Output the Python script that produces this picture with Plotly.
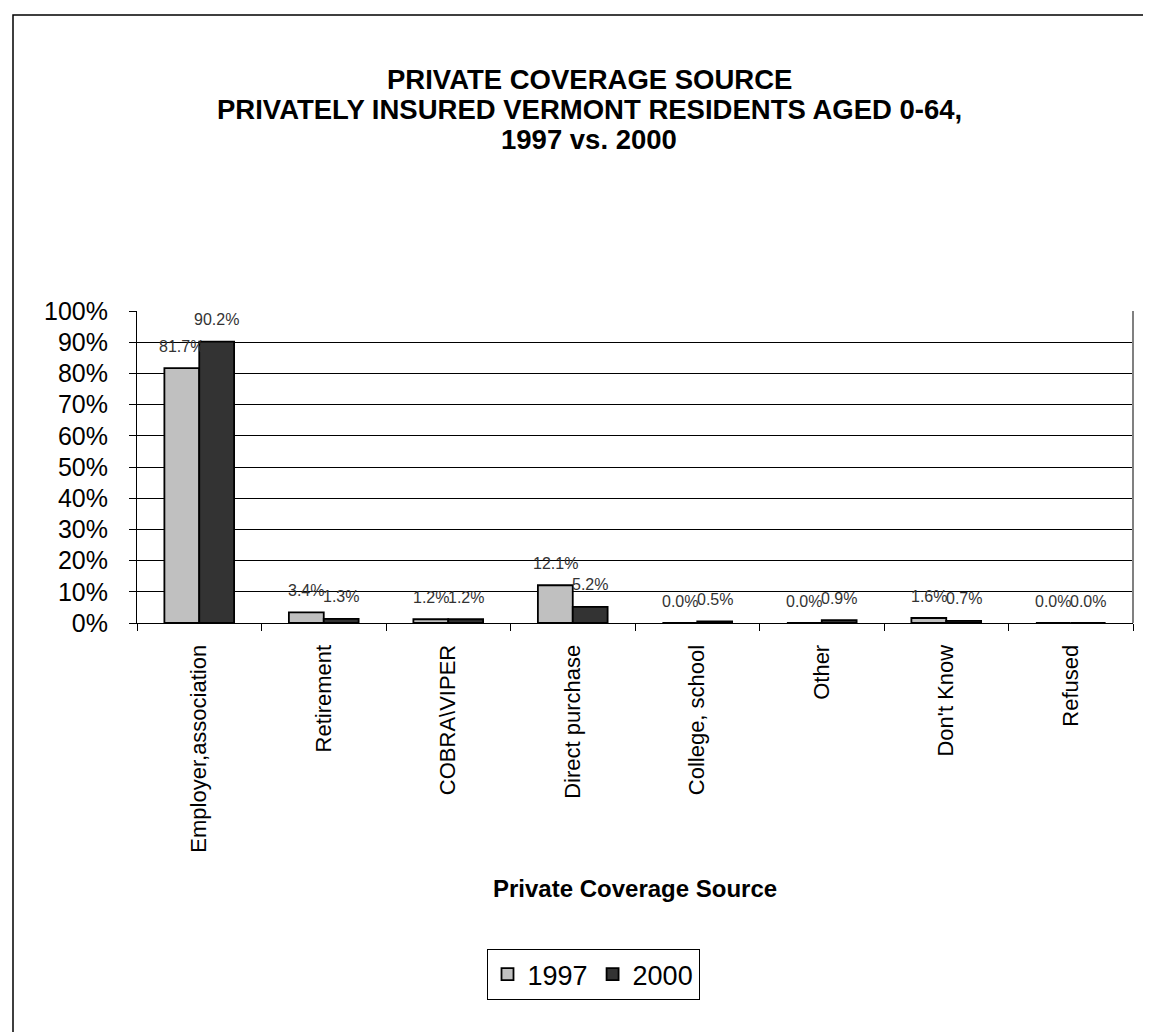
import plotly.graph_objects as go

categories = ["Employer,association", "Retirement", "COBRA\\VIPER", "Direct purchase",
              "College, school", "Other", "Don't Know", "Refused"]
series_names = ["1997", "2000"]
values_1997 = [81.7, 3.4, 1.2, 12.1, 0.0, 0.0, 1.6, 0.0]
values_2000 = [90.2, 1.3, 1.2, 5.2, 0.5, 0.9, 0.7, 0.0]
series_values = [values_1997, values_2000]
series_colors = ["#C0C0C0", "#333333"]
y_ticks = list(range(0, 101, 10))
title_lines = ["PRIVATE COVERAGE SOURCE",
               "PRIVATELY INSURED VERMONT RESIDENTS AGED 0-64,",
               "1997 vs. 2000"]

FONT = "Arial, Liberation Sans, sans-serif"
W, H = 1151, 1032
ML, MR, MT, MB = 129, 26, 303, 417
BARGAP = 0.44

fig = go.Figure()
for name, vals, col in zip(series_names, series_values, series_colors):
    fig.add_trace(go.Bar(
        x=categories, y=vals, name=name,
        marker=dict(color=col, line=dict(color="black", width=1.8)),
    ))

# data labels
bar_w = (1 - BARGAP) / len(series_values)
for s, vals in enumerate(series_values):
    off = -(1 - BARGAP) / 2 + bar_w * (s + 0.5)
    for i, v in enumerate(vals):
        fig.add_annotation(
            x=i + off, y=v, xref="x", yref="y", text=f"{v:.1f}%",
            showarrow=False, yshift=22, font=dict(family=FONT, size=16, color="#333333"),
        )

pw = W - ML - MR
ph = H - MT - MB


def px_x(px):
    return (px - ML) / pw


def px_y(py):
    return (H - MB - py) / ph


# chart title (three centred lines)
for k, line in enumerate(title_lines):
    fig.add_annotation(x=px_x(581), y=px_y(71 + 30 * k), xref="paper", yref="paper",
                       text=f"<b>{line}</b>", showarrow=False,
                       xanchor="center", yanchor="middle",
                       font=dict(family=FONT, size=27.5, color="black"))

# x axis title
fig.add_annotation(x=0.5, y=px_y(880), xref="paper", yref="paper",
                   text="<b>Private Coverage Source</b>", showarrow=False,
                   xanchor="center", yanchor="middle",
                   font=dict(family=FONT, size=24, color="black"))
# outer chart border (left/top visible)
fig.add_shape(type="rect", xref="paper", yref="paper",
              x0=px_x(5), x1=px_x(W + 20), y0=px_y(H + 20), y1=px_y(7),
              line=dict(color="black", width=1.5), fillcolor="rgba(0,0,0,0)", layer="below")
# right plot-area border (grey)
fig.add_shape(type="line", xref="paper", yref="paper", x0=1, x1=1, y0=0, y1=1,
              line=dict(color="#808080", width=2))

fig.update_layout(
    width=W, height=H,
    margin=dict(l=ML, r=MR, t=MT, b=MB),
    paper_bgcolor="white", plot_bgcolor="white",
    barmode="group", bargap=BARGAP, bargroupgap=0,
    font=dict(family=FONT, color="black"),
    xaxis=dict(
        type="category", tickangle=-90, tickfont=dict(family=FONT, size=22),
        showline=True, linecolor="black", linewidth=1,
        ticks="outside", tickson="boundaries", ticklen=7, tickcolor="black",
        showgrid=False, ticklabelstandoff=12,
    ),
    yaxis=dict(
        range=[0, 100], tickvals=y_ticks, ticktext=[f"{t}%" for t in y_ticks],
        tickfont=dict(family=FONT, size=25),
        showline=True, linecolor="black", linewidth=1,
        ticks="outside", ticklen=7, tickcolor="black", ticklabelstandoff=16,
        showgrid=True, gridcolor="black", gridwidth=1, zeroline=False,
    ),
    legend=dict(
        orientation="h", xref="container", x=585 / W, xanchor="center",
        yref="container", y=1 - 941 / H, yanchor="top",
        bordercolor="black", borderwidth=1, font=dict(family=FONT, size=27),
        itemwidth=30, traceorder="normal",
    ),
)

fig.write_html("out.html")
